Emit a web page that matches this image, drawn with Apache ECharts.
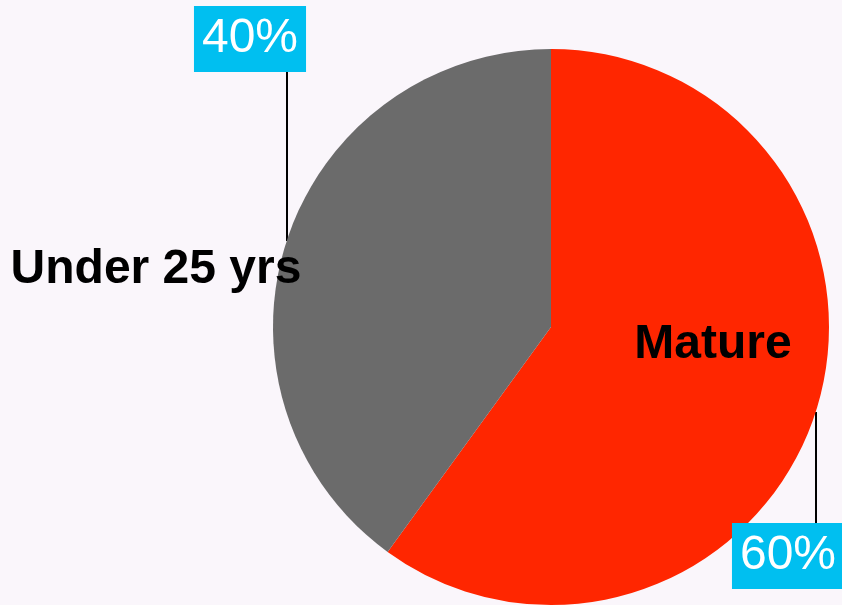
<!DOCTYPE html>
<html>
<head>
<meta charset="utf-8">
<script src="https://cdn.jsdelivr.net/npm/echarts@6/dist/echarts.min.js"></script>
<style>
html,body{margin:0;padding:0;background:#faf6fb;}
#chart{width:842px;height:605px;}
</style>
</head>
<body>
<div id="chart"></div>
<script>
var categories = ['Mature', 'Under 25 yrs'];
var values = [60, 40];
var colors = ['#ff2600', '#6b6b6b'];

var data = categories.map(function (c, i) {
  return { name: c, value: values[i], itemStyle: { color: colors[i] } };
});

var chart = echarts.init(document.getElementById('chart'), null, { renderer: 'canvas' });

var pctPos = [
  { x: 788, y: 556, line: [[816, 412], [816, 523]] },
  { x: 250, y: 39, line: [[287, 241], [287, 72]] }
];
var namePos = [
  { x: 713, y: 345 },
  { x: 156, y: 270 }
];

chart.setOption({
  backgroundColor: '#faf6fb',
  animation: false,
  series: [
    {
      type: 'pie',
      center: [551, 327],
      radius: [0, 278],
      startAngle: 90,
      clockwise: true,
      avoidLabelOverlap: false,
      silent: true,
      data: data,
      itemStyle: { borderWidth: 0 },
      label: {
        show: true,
        position: 'outside',
        formatter: '{d}%',
        fontFamily: 'Liberation Sans, Arial, sans-serif',
        fontSize: 48,
        lineHeight: 48,
        color: '#ffffff',
        backgroundColor: '#00bff0',
        padding: [9, 8, 9, 8]
      },
      labelLine: {
        show: true,
        lineStyle: { color: '#000000', width: 2 }
      },
      labelLayout: function (p) {
        var o = pctPos[p.dataIndex];
        return { x: o.x, y: o.y, align: 'center', verticalAlign: 'middle', labelLinePoints: o.line };
      }
    },
    {
      type: 'pie',
      center: [551, 327],
      radius: [0, 278],
      startAngle: 90,
      clockwise: true,
      avoidLabelOverlap: false,
      silent: true,
      data: data.map(function (d) { return { name: d.name, value: d.value, itemStyle: { color: 'rgba(0,0,0,0)' } }; }),
      label: {
        show: true,
        position: 'inside',
        formatter: '{b}',
        fontFamily: 'Liberation Sans, Arial, sans-serif',
        fontWeight: 'bold',
        fontSize: 48,
        color: '#000000'
      },
      labelLine: { show: false },
      labelLayout: function (p) {
        var o = namePos[p.dataIndex];
        return { x: o.x, y: o.y, align: 'center', verticalAlign: 'middle' };
      }
    }
  ]
});
</script>
</body>
</html>
